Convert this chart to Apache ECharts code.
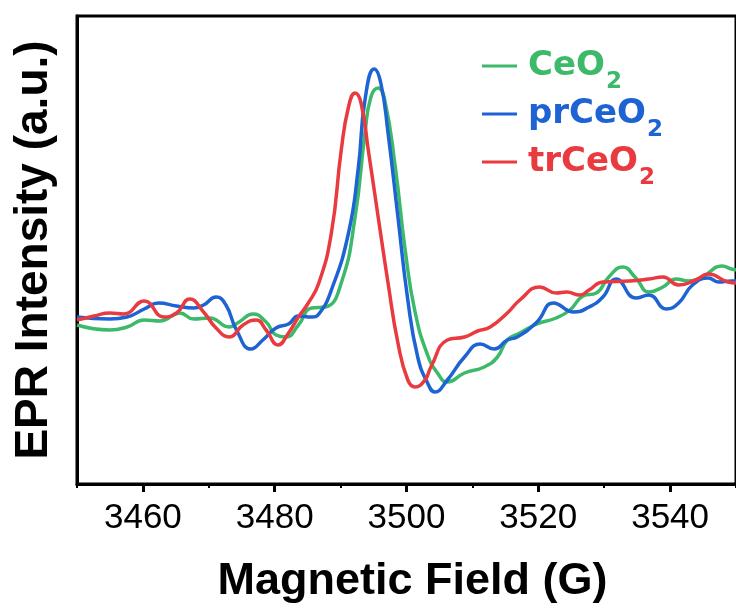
<!DOCTYPE html>
<html><head><meta charset="utf-8">
<script src="https://cdn.jsdelivr.net/npm/echarts@6/dist/echarts.min.js"></script>
<style>html,body{margin:0;padding:0;background:#fff}#c{width:736px;height:612px}</style>
</head><body><div id="c"></div>
<script>
// Magnetic field (G) and EPR intensity (a.u.)
const ceo2Field = [3450, 3455, 3457.6, 3460.2, 3462.6, 3465.6, 3467.7, 3470.1, 3473.1, 3474.6, 3476.7, 3478.7, 3480.2, 3481.7, 3483.6, 3485.6, 3487.7, 3490.1, 3492.2, 3493.7, 3494.6, 3495.7, 3496.7, 3498.3, 3499.8, 3501.3, 3503.2, 3504.7, 3506.2, 3508.8, 3511.8, 3513.8, 3515.3, 3517.2, 3519.8, 3522.7, 3524.8, 3526.8, 3528.8, 3530.7, 3532.8, 3534.8, 3536.8, 3538.9, 3540.9, 3542.8, 3544.9, 3547.9, 3549.3, 3550];
const ceo2Int = [-75, -80, -77, -70, -71, -63, -69, -68, -77, -72, -64, -72, -85, -87, -75, -58, -57, -33, 33, 117, 153, 162, 150, 83, 0, -62, -105, -123, -132, -123, -117, -107, -90, -83, -74, -68, -60, -46, -43, -27, -17, -28, -42, -37, -29, -31, -27, -16, -19, -20];

const prField = [3450, 3455, 3457.6, 3460.2, 3462.4, 3465.1, 3467.7, 3469.2, 3471.1, 3472.6, 3474.2, 3476.4, 3478.2, 3480.2, 3482.1, 3483.6, 3485.6, 3486.7, 3488.6, 3491.2, 3492.7, 3493.7, 3495.1, 3496.1, 3497.2, 3498.7, 3500.2, 3501.7, 3503.2, 3504.3, 3506.2, 3508.8, 3511.2, 3513.3, 3515.3, 3516.8, 3519.8, 3522.3, 3525.4, 3527.7, 3529.8, 3531.8, 3534.8, 3536.8, 3539.4, 3541.3, 3543.4, 3545.8, 3547.3, 3549.3, 3550];
const prInt = [-67, -69, -67, -59, -53, -56, -58, -55, -47, -55, -80, -99, -90, -78, -74, -66, -67, -64, -40, 17, 83, 150, 181, 167, 117, 33, -50, -107, -133, -142, -130, -107, -94, -99, -90, -87, -72, -53, -62, -57, -47, -29, -48, -45, -59, -53, -35, -28, -32, -31, -31];

const trField = [3450, 3452.6, 3455, 3457.1, 3460.2, 3463.2, 3465.1, 3467.1, 3469.2, 3471.1, 3473.1, 3475.2, 3477.2, 3478.7, 3480.5, 3482.1, 3483.6, 3485.1, 3486.7, 3488.6, 3490.1, 3491.2, 3492.2, 3493.1, 3494.2, 3495.7, 3497.2, 3498.7, 3500.2, 3501.3, 3502.8, 3503.7, 3506.2, 3508.8, 3510.8, 3512.7, 3515.3, 3517.2, 3520.2, 3522.7, 3524.3, 3526.3, 3527.7, 3529.8, 3533.8, 3536.8, 3538.9, 3541.3, 3543.9, 3545.8, 3548.8, 3550];
const trInt = [-70, -66, -63, -64, -51, -67, -63, -49, -62, -78, -87, -75, -70, -80, -95, -83, -67, -53, -33, 17, 100, 143, 157, 147, 100, 33, -33, -93, -130, -137, -130, -117, -90, -87, -81, -77, -63, -50, -37, -43, -42, -45, -40, -32, -31, -29, -27, -35, -30, -24, -32, -33];

const seriesNames = ['CeO2', 'prCeO2', 'trCeO2'];
const majorTicks = [3460, 3480, 3500, 3520, 3540];
const minorTicks = [3450, 3470, 3490, 3510, 3530, 3550];

const colors = {CeO2: '#3DB96A', prCeO2: '#1E63D3', trCeO2: '#E83A3F'};
const zip = (a, b) => a.map((x, i) => [x, b[i]]);
const datasets = {CeO2: zip(ceo2Field, ceo2Int), prCeO2: zip(prField, prInt), trCeO2: zip(trField, trInt)};

const chart = echarts.init(document.getElementById('c'), null, {renderer: 'canvas'});
const legendTops = [49, 97, 145];
const legends = seriesNames.map((n, i) => ({
  data: [n], left: 482, top: legendTops[i], padding: 0, orient: 'vertical',
  icon: 'rect', itemWidth: 35, itemHeight: 3, selectedMode: false,
  formatter: (name) => '{a|' + name.replace(/2$/, '') + '}{b|2}',
  textStyle: {
    color: colors[n],
    rich: {
      a: {fontFamily: 'DejaVu Sans', fontWeight: 'bold', fontSize: 34, color: colors[n], padding: [0, 0, 0, 6]},
      b: {fontFamily: 'DejaVu Sans', fontWeight: 'bold', fontSize: 23, color: colors[n], padding: [32, 0, 0, 1]}
    }
  }
}));

chart.setOption({
  animation: false,
  backgroundColor: '#fff',
  grid: {left: 77, top: 16, width: 663, height: 468, show: true, borderColor: '#000', borderWidth: 3, backgroundColor: 'transparent'},
  legend: legends,
  xAxis: [{
    type: 'value', min: 3450, max: 3550,
    axisLine: {show: true, onZero: false, lineStyle: {color: '#000', width: 3}},
    axisTick: {show: true, inside: false, length: 8, lineStyle: {color: '#000', width: 3}, customValues: majorTicks},
    axisLabel: {customValues: majorTicks, formatter: (v) => String(v), fontFamily: 'Liberation Sans', fontSize: 35, color: '#000', margin: 17},
    splitLine: {show: false},
    name: 'Magnetic Field (G)', nameLocation: 'middle', nameGap: 75,
    nameTextStyle: {fontFamily: 'Liberation Sans', fontWeight: 'bold', fontSize: 45, color: '#000', padding: [0, 0, 0, 12]}
  }, {
    type: 'value', min: 3450, max: 3550, position: 'bottom', offset: 0,
    axisLine: {show: false, onZero: false},
    axisTick: {show: true, inside: false, length: 4, lineStyle: {color: '#000', width: 2}, customValues: minorTicks},
    axisLabel: {show: false}, splitLine: {show: false}
  }],
  yAxis: {
    type: 'value', min: -234, max: 234,
    axisLine: {show: true, onZero: false, lineStyle: {color: '#000', width: 3}},
    axisTick: {show: false}, axisLabel: {show: false}, splitLine: {show: false},
    name: 'EPR Intensity (a.u.)', nameLocation: 'middle', nameGap: 20,
    nameTextStyle: {fontFamily: 'Liberation Sans', fontWeight: 'bold', fontSize: 46, color: '#000'}
  },
  series: seriesNames.map(n => ({
    name: n, type: 'line', xAxisIndex: 0, data: datasets[n], showSymbol: false, smooth: 0.5,
    lineStyle: {color: colors[n], width: 3.5}, itemStyle: {color: colors[n]}
  }))
});
</script></body></html>
